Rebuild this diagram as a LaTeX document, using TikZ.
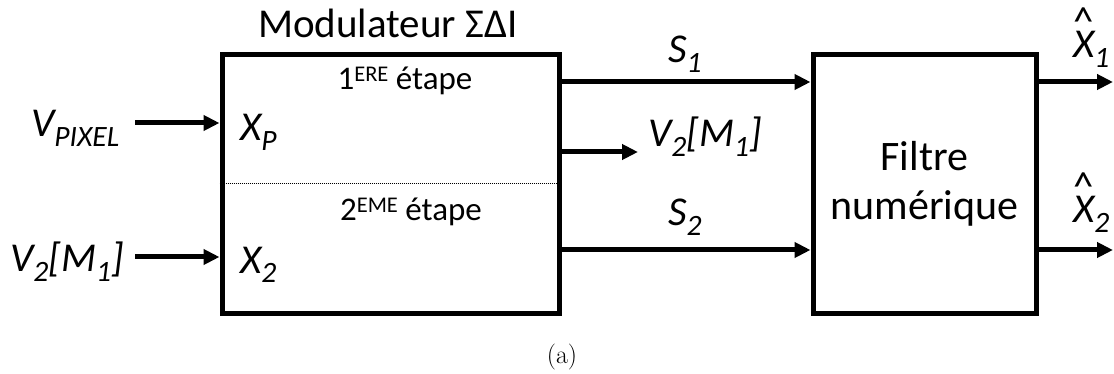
\documentclass[tikz,border=0pt]{standalone}
\usepackage{fontspec}
\usepackage{graphicx}
\usetikzlibrary{arrows.meta}
\usetikzlibrary{positioning}
\newfontfamily\calfont{Carlito}
\newcommand\lowidx[1]{\raisebox{-.22em}{\scalebox{.72}{#1}}}
\newcommand\upidx[1]{\raisebox{.25em}{\scalebox{.68}{#1}}}
\newcommand\hatx[1]{\ooalign{#1\cr\hidewidth\raisebox{.54em}{\upshape\textasciicircum}\hidewidth\cr}}

\begin{document}
\begin{tikzpicture}[
  x=1pt,y=-1pt,
  block/.style={draw,line width=5pt,inner sep=0pt},
  arr/.style={line width=5pt,-{Triangle[length=16pt,width=15pt]}},
  lbl/.style={font=\calfont\fontsize{41}{45}\selectfont,inner sep=0pt},
  steplbl/.style={font=\calfont\fontsize{33}{37}\selectfont,inner sep=0pt}
]
\useasboundingbox (0,0) rectangle (1114,374);
\node[block,minimum width=337pt,minimum height=258pt] (mod) at (390.5,184) {};
\node[block,lbl,minimum width=223pt,minimum height=258pt,align=center,
  font=\calfont\fontsize{42}{49}\selectfont] (filt) at (924.5,184) {Filtre\\numérique};
\draw[densely dotted,line width=1pt] (mod.west |- 0,184) -- (mod.east |- 0,184);

\node[lbl,anchor=base] (modname) at (388,38) {Modulateur ΣΔI};
\node[steplbl,anchor=base] (step1) at (405,90) {1\upidx{ERE} étape};
\node[steplbl,anchor=base] (step2) at (411,221) {2\upidx{EME} étape};
\node[lbl,anchor=base west] (xp) at (240,141) {\itshape X\lowidx{P}};
\node[lbl,anchor=base west] (x2) at (240,273) {\itshape X\lowidx{2}};

% inputs
\node[lbl,anchor=base west] (vpix) at (31,137) {\itshape V\lowidx{PIXEL}};
\node[lbl,anchor=base west] (vin) at (10,272) {\itshape V\lowidx{2}[M\lowidx{1}]};
\coordinate (in1) at (135,123);
\coordinate (in2) at (135,257);
\draw[arr] (in1) -- (in1 -| mod.west);
\draw[arr] (in2) -- (in2 -| mod.west);

% modulator outputs
\node[lbl,anchor=base west] (s1) at (668,63) {\itshape S\lowidx{1}};
\node[lbl,anchor=base west] (s2) at (668,226) {\itshape S\lowidx{2}};
\node[lbl,anchor=base west] (vout) at (648,147) {\itshape V\lowidx{2}[M\lowidx{1}]};
\coordinate (vend) at (638,152);
\draw[arr] (mod.east |- 0,82) -- (filt.west |- 0,82);
\draw[arr] (mod.east |- 0,250) -- (filt.west |- 0,250);
\draw[arr] (mod.east |- vend) -- (vend);

% filter outputs
\node[lbl,anchor=base west] (xh1) at (1073,58) {\itshape\hatx{X}\lowidx{1}};
\node[lbl,anchor=base west] (xh2) at (1073,223) {\itshape\hatx{X}\lowidx{2}};
\coordinate (out1) at (1113,82);
\coordinate (out2) at (1113,250);
\draw[arr] (filt.east |- out1) -- (out1);
\draw[arr] (filt.east |- out2) -- (out2);

\node[font=\fontsize{26}{30}\selectfont,anchor=base] (cap) at (562,363) {(a)};
\end{tikzpicture}
\end{document}
